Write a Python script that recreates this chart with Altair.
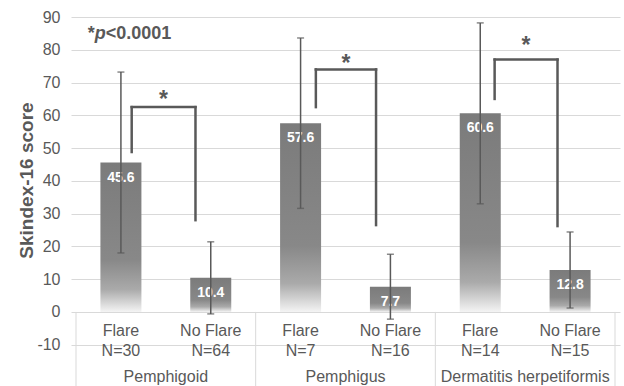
import altair as alt
import pandas as pd

# ---- data ----
groups = ["Pemphigoid", "Pemphigus", "Dermatitis herpetiformis"]
conditions = ["Flare", "No Flare", "Flare", "No Flare", "Flare", "No Flare"]
n_labels = ["N=30", "N=64", "N=7", "N=16", "N=14", "N=15"]
means = [45.6, 10.4, 57.6, 7.7, 60.6, 12.8]
err_low = [18.0, -0.6, 31.6, -2.2, 33.0, 1.2]
err_high = [73.2, 21.4, 83.6, 17.6, 88.2, 24.4]

# significance brackets (one per disease group)
br_left_x = [0.62, 2.67, 4.66]
br_right_x = [1.33, 3.34, 5.36]
br_top = [62.5, 74.0, 77.0]
br_left_bottom = [48.8, 62.5, 65.0]
br_right_bottom = [28.0, 26.5, 26.2]
star_y = [66.6, 77.5, 83.0]

y_ticks = [-10, 0, 10, 20, 30, 40, 50, 60, 70, 80, 90]
Y_MIN, Y_MAX = -22.6, 90

FONT = "Liberation Sans"
GREY = "#595959"

slots = [i + 0.5 for i in range(len(means))]
bars = pd.DataFrame({
    "x": slots, "mean": means, "lo": err_low, "hi": err_high,
    "cond": conditions, "n": n_labels,
    "label": [f"{m:.1f}" for m in means], "zero": [0] * len(means),
})
grp = pd.DataFrame({"x": [2 * i + 1 for i in range(len(groups))], "g": groups})
seps = pd.DataFrame({"x": [0, 2, 4, 6]})

vert = pd.DataFrame({
    "x": br_left_x + br_right_x,
    "y": br_top + br_top,
    "y2": br_left_bottom + br_right_bottom,
})
horiz = pd.DataFrame({"x": br_left_x, "x2": br_right_x, "y": br_top})
stars = pd.DataFrame({
    "x": [(a + b) / 2 for a, b in zip(br_left_x, br_right_x)],
    "y": star_y, "t": ["*"] * 3,
})

xs = alt.Scale(domain=[0, 6], nice=False, zero=False)
ys = alt.Scale(domain=[Y_MIN, Y_MAX], nice=False, zero=False)

AX = alt.Axis(
    values=y_ticks, title="Skindex-16 score", grid=True, gridColor="#d9d9d9",
    gridWidth=1, ticks=False, domain=False, labelPadding=11,
    labelExpr="'' + datum.value",
    labelFontSize=16, labelColor=GREY, labelFont=FONT,
    titleFont=FONT, titleFontSize=19, titleFontWeight="bold", titleColor=GREY,
    titleX=-39, titleY=163, titleBaseline="alphabetic", titleAngle=-90,
)


def X(field):
    return alt.X(field, scale=xs, axis=None)


def Y(field):
    return alt.Y(field, scale=ys, axis=AX)


def YD(v):
    return alt.YDatum(v, scale=ys, axis=AX)


gradient = alt.Gradient(
    gradient="linear",
    stops=[
        alt.GradientStop(color="#7b7b7b", offset=0),
        alt.GradientStop(color="#888888", offset=0.65),
        alt.GradientStop(color="#aaaaaa", offset=0.85),
        alt.GradientStop(color="#f4f4f4", offset=1),
    ],
    x1=1, x2=1, y1=0, y2=1,
)

bar_layer = alt.Chart(bars).mark_bar(size=41, color=gradient).encode(
    x=X("x:Q"), y=Y("mean:Q"), y2="zero:Q",
)

val_text = alt.Chart(bars).mark_text(
    font=FONT, fontSize=14, fontWeight="bold", color="white", baseline="middle", dy=15
).encode(x=X("x:Q"), y=Y("mean:Q"), text="label:N")

err_rule = alt.Chart(bars).mark_rule(color=GREY, strokeWidth=1.5).encode(
    x=X("x:Q"), y=Y("lo:Q"), y2="hi:Q")
cap_lo = alt.Chart(bars).mark_tick(color=GREY, orient="horizontal", size=7, thickness=1.5).encode(
    x=X("x:Q"), y=Y("lo:Q"))
cap_hi = alt.Chart(bars).mark_tick(color=GREY, orient="horizontal", size=7, thickness=1.5).encode(
    x=X("x:Q"), y=Y("hi:Q"))

sep_layer = alt.Chart(seps).mark_rule(color="#d9d9d9", strokeWidth=1).encode(
    x=X("x:Q"), y=YD(0), y2=alt.datum(Y_MIN),
)

cond_text = alt.Chart(bars).mark_text(font=FONT, fontSize=16, color=GREY, baseline="middle").encode(
    x=X("x:Q"), y=YD(-5.8), text="cond:N")
n_text = alt.Chart(bars).mark_text(font=FONT, fontSize=16, color=GREY, baseline="middle").encode(
    x=X("x:Q"), y=YD(-12.0), text="n:N")
grp_text = alt.Chart(grp).mark_text(font=FONT, fontSize=16, color=GREY, baseline="middle").encode(
    x=X("x:Q"), y=YD(-19.8), text="g:N")

vert_layer = alt.Chart(vert).mark_rule(color=GREY, strokeWidth=2.5, strokeCap="square").encode(
    x=X("x:Q"), y=Y("y:Q"), y2="y2:Q")
horiz_layer = alt.Chart(horiz).mark_rule(color=GREY, strokeWidth=2.5, strokeCap="square").encode(
    x=X("x:Q"), x2="x2:Q", y=Y("y:Q"))
star_layer = alt.Chart(stars).mark_text(
    font=FONT, fontSize=23, fontWeight="bold", color=GREY, baseline="middle", dy=6
).encode(x=X("x:Q"), y=Y("y:Q"), text="t:N")

p_pos_x = 0.131
p_pos_y = 83.3
p_df = pd.DataFrame({"t": ["*"], "p": ["p"], "v": ["<0.0001"]})
p1 = alt.Chart(p_df).mark_text(
    font=FONT, fontSize=18, fontWeight="bold", color=GREY, align="left", baseline="alphabetic"
).encode(x=alt.XDatum(p_pos_x, scale=xs, axis=None), y=YD(p_pos_y), text="t:N")
p2 = alt.Chart(p_df).mark_text(
    font=FONT, fontSize=18, fontWeight="bold", fontStyle="italic", color=GREY, align="left",
    baseline="alphabetic", dx=7
).encode(x=alt.XDatum(p_pos_x, scale=xs, axis=None), y=YD(p_pos_y), text="p:N")
p3 = alt.Chart(p_df).mark_text(
    font=FONT, fontSize=18, fontWeight="bold", color=GREY, align="left", baseline="alphabetic", dx=18
).encode(x=alt.XDatum(p_pos_x, scale=xs, axis=None), y=YD(p_pos_y), text="v:N")

chart = alt.layer(
    bar_layer, sep_layer, val_text, err_rule, cap_lo, cap_hi,
    cond_text, n_text, grp_text, vert_layer, horiz_layer, star_layer, p1, p2, p3,
).properties(
    width=549, height=369,
    autosize=alt.AutoSizeParams(type="none"),
    padding={"left": 71, "top": 17, "right": 4, "bottom": 0},
    background="white",
).configure_view(stroke=None)

chart.save("out.html", embed_options={"renderer": "svg", "actions": False})
